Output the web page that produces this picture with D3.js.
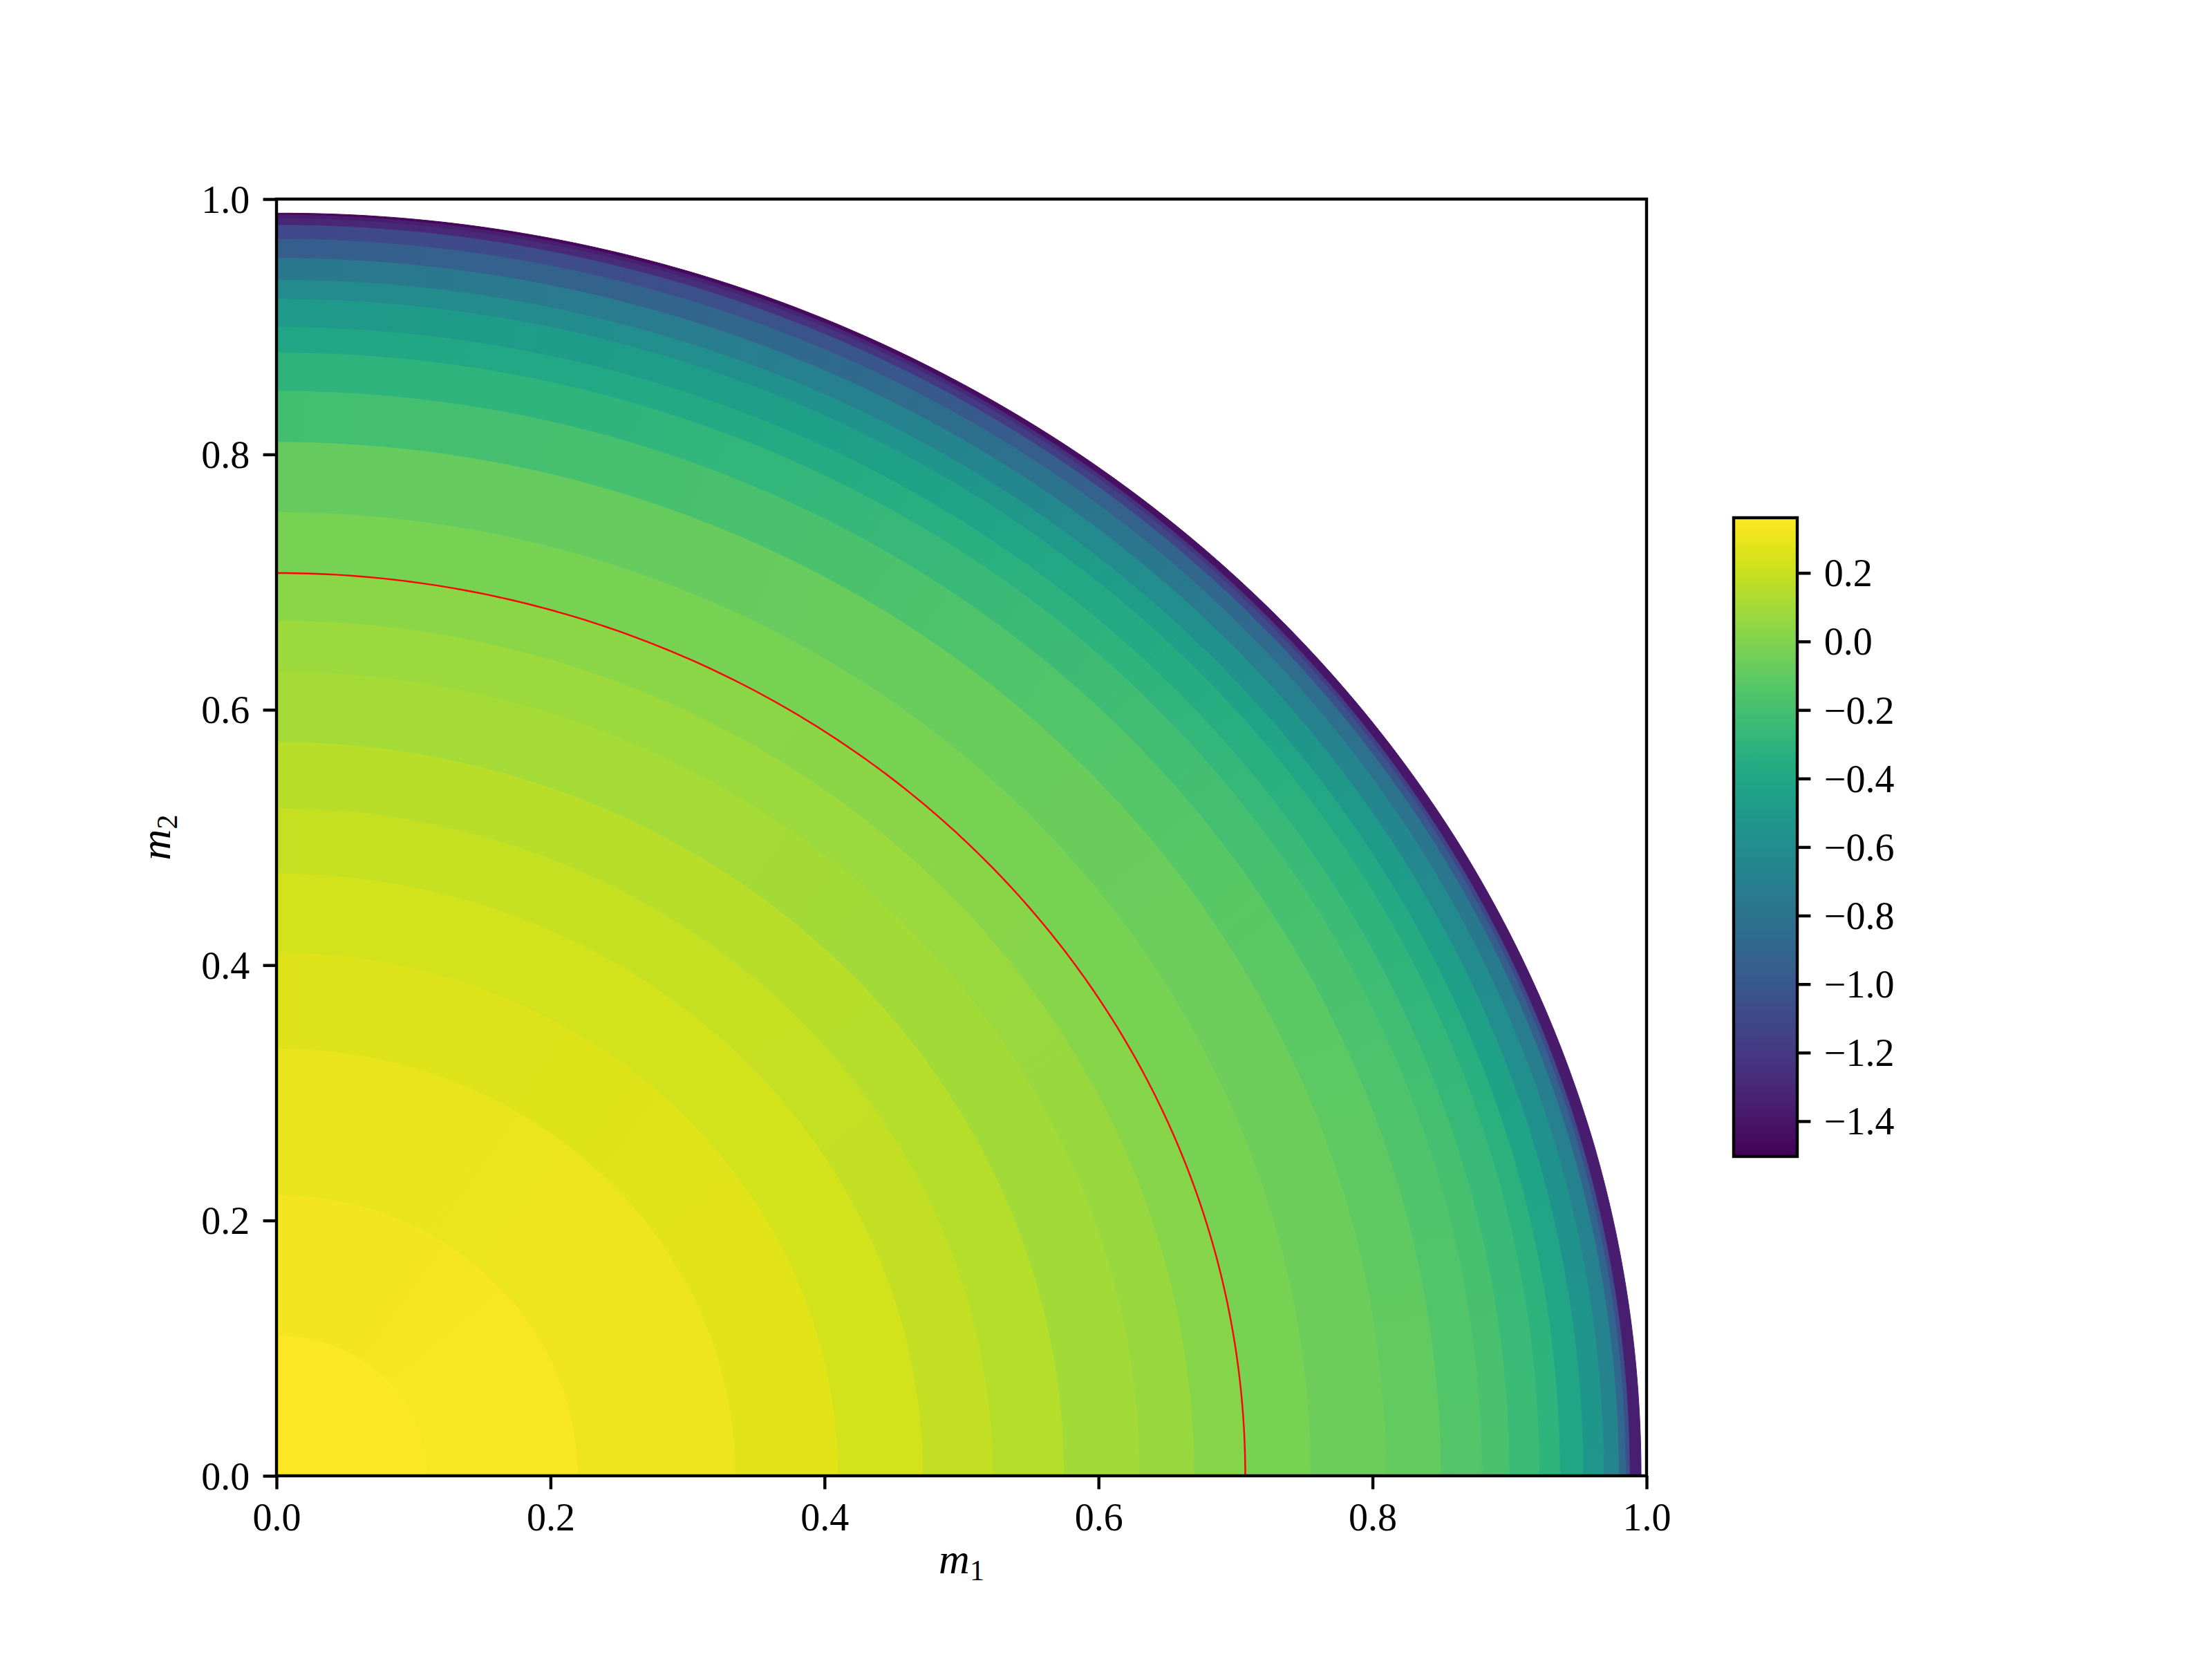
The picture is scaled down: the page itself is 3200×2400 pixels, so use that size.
<!DOCTYPE html>
<html><head><meta charset="utf-8">
<script src="https://cdn.jsdelivr.net/npm/d3@7"></script>
<style>body{margin:0;background:#fff}</style>
</head><body>
<svg id="chart" width="3200" height="2400" xmlns="http://www.w3.org/2000/svg"></svg>
<script>
// ---------- data ----------
// radial band edges (sqrt(m1^2+m2^2)); the last band runs to outerRadius
const radiiEdges = [0, 0.11, 0.22, 0.335, 0.41, 0.472, 0.523, 0.575, 0.63, 0.67, 0.707, 0.755, 0.81, 0.85, 0.88, 0.90, 0.922, 0.937, 0.954, 0.969, 0.98, 0.985, 0.988];
// directions of the sampled profiles (degrees from the m1 axis)
const profileAngles = [0, 15, 30, 45, 60, 75, 90];
// edge of the coloured region along each direction
const outerRadius = [0.996, 0.996, 0.995, 0.993, 0.991, 0.990, 0.989];
// band values along each direction
const valuesAt0  = [0.35, 0.34, 0.315, 0.275, 0.23, 0.19, 0.155, 0.10, 0.075, 0.025, -0.018, -0.055, -0.09, -0.14, -0.175, -0.23, -0.29, -0.39, -0.52, -0.66, -0.88, -1.05, -1.35];
const valuesAt15 = [0.35, 0.34, 0.315, 0.275, 0.23, 0.19, 0.155, 0.10, 0.075, 0.025, -0.018, -0.057, -0.098, -0.151, -0.191, -0.249, -0.313, -0.416, -0.55, -0.691, -0.909, -1.07, -1.36];
const valuesAt30 = [0.35, 0.34, 0.315, 0.275, 0.23, 0.19, 0.155, 0.10, 0.075, 0.025, -0.018, -0.061, -0.118, -0.18, -0.231, -0.298, -0.373, -0.483, -0.628, -0.77, -0.985, -1.12, -1.38];
const valuesAt45 = [0.35, 0.335, 0.308, 0.268, 0.233, 0.195, 0.158, 0.105, 0.078, 0.033, -0.019, -0.068, -0.145, -0.22, -0.288, -0.365, -0.455, -0.575, -0.735, -0.88, -1.09, -1.20, -1.41];
const valuesAt60 = [0.35, 0.33, 0.30, 0.26, 0.235, 0.20, 0.16, 0.11, 0.08, 0.04, -0.02, -0.074, -0.173, -0.26, -0.344, -0.433, -0.538, -0.668, -0.843, -0.99, -1.195, -1.28, -1.44];
const valuesAt75 = [0.35, 0.33, 0.30, 0.26, 0.235, 0.20, 0.16, 0.11, 0.08, 0.04, -0.02, -0.078, -0.192, -0.289, -0.384, -0.481, -0.597, -0.734, -0.92, -1.069, -1.271, -1.34, -1.46];
const valuesAt90 = [0.35, 0.33, 0.30, 0.26, 0.235, 0.20, 0.16, 0.11, 0.08, 0.04, -0.02, -0.08, -0.2, -0.3, -0.4, -0.5, -0.62, -0.76, -0.95, -1.1, -1.3, -1.36, -1.47];
const profiles = [valuesAt0, valuesAt15, valuesAt30, valuesAt45, valuesAt60, valuesAt75, valuesAt90];
// colour range of the colorbar
const colorMin = -1.503, colorMax = 0.361;
// red reference circle
const circleRadius = 0.7071;
// tick values
const axisTicks = [0.0, 0.2, 0.4, 0.6, 0.8, 1.0];
const colorbarTicks = [0.2, 0.0, -0.2, -0.4, -0.6, -0.8, -1.0, -1.2, -1.4];

// ---------- layout ----------
const svg = d3.select("#chart");
const L = 400, R = 2382, T = 288, B = 2135;
const x = d3.scaleLinear().domain([0, 1]).range([L, R]);
const y = d3.scaleLinear().domain([0, 1]).range([B, T]);
const color = d3.scaleSequential(d3.interpolateViridis).domain([colorMin, colorMax]);
const font = "'Liberation Serif', 'DejaVu Serif', serif";
const fs = 56;
const rad = a => a * Math.PI / 180;

svg.append("rect").attr("width", 3200).attr("height", 2400).attr("fill", "#fff");
const defs = svg.append("defs");

// ---------- heat map: annular cells between neighbouring profiles ----------
function cellPath(r0, r1a, r1b, a0, a1) {
  const n = 30;
  const p = d3.path();
  for (let k = 0; k <= n; k++) {
    const f = k / n, a = rad(a0 + (a1 - a0) * f), r1 = r1a + (r1b - r1a) * f;
    const px = x(r1 * Math.cos(a)), py = y(r1 * Math.sin(a));
    if (k === 0) p.moveTo(px, py); else p.lineTo(px, py);
  }
  if (r0 === 0) p.lineTo(x(0), y(0));
  else for (let k = n; k >= 0; k--) {
    const a = rad(a0 + (a1 - a0) * k / n);
    p.lineTo(x(r0 * Math.cos(a)), y(r0 * Math.sin(a)));
  }
  p.closePath();
  return p.toString();
}

const cells = [];
for (let j = 0; j < profileAngles.length - 1; j++) {
  const a0 = profileAngles[j], a1 = profileAngles[j + 1];
  radiiEdges.forEach((r0, i) => {
    const last = i === radiiEdges.length - 1;
    const r1a = last ? outerRadius[j] : radiiEdges[i + 1];
    const r1b = last ? outerRadius[j + 1] : radiiEdges[i + 1];
    cells.push({ id: `c${j}_${i}`, r0, r1a, r1b, a0, a1, v0: profiles[j][i], v1: profiles[j + 1][i] });
  });
}

const grads = defs.selectAll("linearGradient.cg").data(cells).join("linearGradient")
  .attr("class", "cg").attr("id", d => d.id).attr("gradientUnits", "userSpaceOnUse")
  .attr("x1", d => x((d.r0 + d.r1a) / 2 * Math.cos(rad(d.a0))))
  .attr("y1", d => y((d.r0 + d.r1a) / 2 * Math.sin(rad(d.a0))))
  .attr("x2", d => x((d.r0 + d.r1b) / 2 * Math.cos(rad(d.a1))))
  .attr("y2", d => y((d.r0 + d.r1b) / 2 * Math.sin(rad(d.a1))));
grads.append("stop").attr("offset", 0).attr("stop-color", d => color(d.v0));
grads.append("stop").attr("offset", 1).attr("stop-color", d => color(d.v1));

const clip = defs.append("clipPath").attr("id", "axclip");
clip.append("rect").attr("x", L).attr("y", T).attr("width", R - L).attr("height", B - T);
const heat = svg.append("g").attr("clip-path", "url(#axclip)");
heat.selectAll("path.cell").data(cells).join("path")
  .attr("class", "cell")
  .attr("d", d => cellPath(d.r0, d.r1a, d.r1b, d.a0, d.a1))
  .attr("fill", d => `url(#${d.id})`)
  .attr("stroke", d => `url(#${d.id})`)
  .attr("stroke-width", 1);

// red circle
const circAngles = d3.range(0, 90.01, 0.5);
heat.append("path")
  .datum(circAngles)
  .attr("fill", "none").attr("stroke", "#ff0000").attr("stroke-width", 2.4)
  .attr("d", d3.line()
    .x(a => x(circleRadius * Math.cos(rad(a))))
    .y(a => y(circleRadius * Math.sin(rad(a)))));

// ---------- axes ----------
const tickLen = 19.4, pad = 19.4, lw = 4.4;
const xAxis = svg.append("g").attr("transform", `translate(0,${B})`)
  .call(d3.axisBottom(x).tickValues(axisTicks).tickFormat(d3.format(".1f")).tickSize(tickLen).tickPadding(pad));
const yAxis = svg.append("g").attr("transform", `translate(${L},0)`)
  .call(d3.axisLeft(y).tickValues(axisTicks).tickFormat(d3.format(".1f")).tickSize(tickLen).tickPadding(pad));
[xAxis, yAxis].forEach(g => {
  g.select(".domain").remove();
  g.selectAll(".tick line").attr("stroke", "#000").attr("stroke-width", lw);
  g.selectAll(".tick text").attr("font-family", font).attr("font-size", fs).attr("fill", "#000");
});
xAxis.selectAll(".tick text").attr("dy", "0.72em");
yAxis.selectAll(".tick text").attr("dy", "0.34em");

svg.append("rect").attr("x", L).attr("y", T).attr("width", R - L).attr("height", B - T)
  .attr("fill", "none").attr("stroke", "#000").attr("stroke-width", lw);

// axis labels
const xl = svg.append("text").attr("x", (L + R) / 2).attr("y", 2276).attr("text-anchor", "middle")
  .attr("font-family", font).attr("font-size", 62);
xl.append("tspan").attr("font-style", "italic").text("m");
xl.append("tspan").attr("font-size", 42).attr("dy", 10).text("1");

const yl = svg.append("text").attr("transform", `translate(246,${(T + B) / 2}) rotate(-90)`)
  .attr("text-anchor", "middle").attr("font-family", font).attr("font-size", 62);
yl.append("tspan").attr("font-style", "italic").text("m");
yl.append("tspan").attr("font-size", 42).attr("dy", 10).text("2");

// ---------- colorbar ----------
const CL = 2508, CR = 2600, CT = 749, CB = 1673;
const cy = d3.scaleLinear().domain([colorMin, colorMax]).range([CB, CT]);
const grad = defs.append("linearGradient").attr("id", "cbgrad")
  .attr("x1", 0).attr("y1", 1).attr("x2", 0).attr("y2", 0);
d3.range(0, 1.0001, 1 / 32).forEach(t => grad.append("stop").attr("offset", t).attr("stop-color", d3.interpolateViridis(t)));
svg.append("rect").attr("x", CL).attr("y", CT).attr("width", CR - CL).attr("height", CB - CT).attr("fill", "url(#cbgrad)");
const cAxis = svg.append("g").attr("transform", `translate(${CR},0)`)
  .call(d3.axisRight(cy).tickValues(colorbarTicks).tickFormat(d => d3.format(".1f")(d).replace("-", "\u2212")).tickSize(tickLen).tickPadding(pad));
cAxis.select(".domain").remove();
cAxis.selectAll(".tick line").attr("stroke", "#000").attr("stroke-width", lw);
cAxis.selectAll(".tick text").attr("font-family", font).attr("font-size", fs).attr("fill", "#000").attr("dy", "0.34em");
svg.append("rect").attr("x", CL).attr("y", CT).attr("width", CR - CL).attr("height", CB - CT)
  .attr("fill", "none").attr("stroke", "#000").attr("stroke-width", lw);
</script>
</body></html>
